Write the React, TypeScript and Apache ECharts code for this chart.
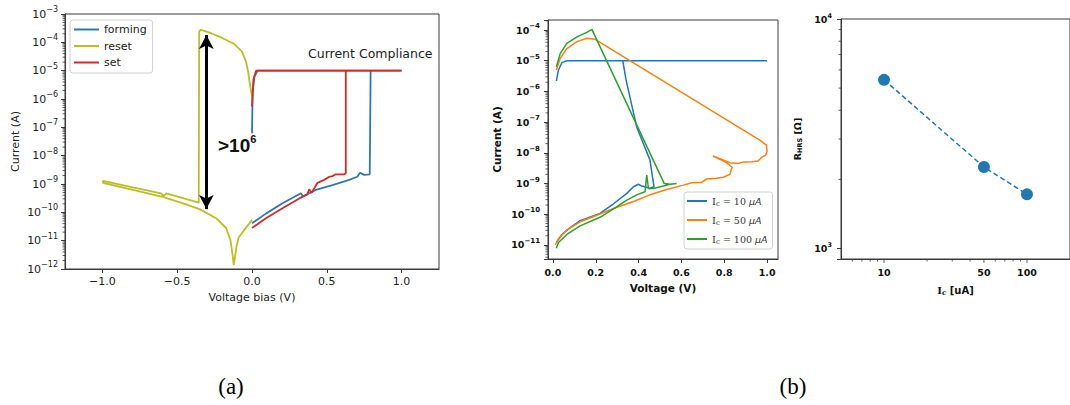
import React, { useEffect, useRef } from 'react';
import * as echarts from 'echarts';

// ---------- Panel (a): I-V sweeps ----------
const formingV = [0.0, 0.093, 0.204, 0.327, 0.342, 0.427, 0.538, 0.649, 0.704, 0.722, 0.749, 0.787, 0.793, 1.0, 0.038, 0.016, 0.004, 0.0];
const formingI = [4.1e-11, 9e-11, 2.1e-10, 4.7e-10, 3.6e-10, 6.2e-10, 9.1e-10, 1.4e-9, 1.8e-9, 2.5e-9, 2.1e-9, 2.2e-9, 1e-5, 1e-5, 1e-5, 6.2e-6, 1.6e-6, 6.2e-8];

const resetV = [0.0, -0.013, -0.024, -0.04, -0.067, -0.118, -0.196, -0.273, -0.324, -0.344, -0.353, -0.356, -0.462, -0.573, -0.591, -0.609, -0.796, -0.996, -0.996, -0.796, -0.596, -0.44, -0.351, -0.24, -0.173, -0.144, -0.131, -0.122, -0.113, -0.104, -0.089, -0.051, 0.0];
const resetI = [1.2e-6, 3.1e-6, 8.1e-6, 2.1e-5, 4.7e-5, 8.7e-5, 1.4e-4, 2.1e-4, 2.6e-4, 2.75e-4, 2.4e-4, 2.2e-10, 3.2e-10, 4.7e-10, 3.8e-10, 4.7e-10, 7.6e-10, 1.3e-9, 1.1e-9, 6.2e-10, 3.5e-10, 1.9e-10, 1.3e-10, 6.2e-11, 2.8e-11, 1.05e-11, 3.5e-12, 1.4e-12, 2.8e-12, 6.2e-12, 1.3e-11, 2.4e-11, 5.4e-11];

const setV = [0.0, 0.093, 0.204, 0.316, 0.371, 0.382, 0.398, 0.416, 0.438, 0.482, 0.516, 0.538, 0.56, 0.616, 0.627, 0.627, 1.0, 0.027, 0.009, 0.0];
const setI = [2.8e-11, 6.2e-11, 1.4e-10, 3.1e-10, 4.4e-10, 6.5e-10, 4.9e-10, 7.1e-10, 1.1e-9, 1.4e-9, 1.8e-9, 1.9e-9, 2.2e-9, 2.2e-9, 2.4e-9, 1e-5, 1e-5, 1e-5, 4.7e-6, 5.4e-7];

const aXTicks = [-1.0, -0.5, 0.0, 0.5, 1.0];

// ---------- Panel (b) left: compliance currents ----------
const ic10V = [0.016, 0.026, 0.042, 0.065, 1.0, 0.326, 0.342, 0.391, 0.453, 0.472, 0.453, 0.430, 0.415, 0.399, 0.376, 0.345, 0.283, 0.220, 0.127, 0.081, 0.042, 0.016];
const ic10I = [2.2e-6, 5e-6, 8.7e-6, 1e-5, 1e-5, 1e-5, 2.3e-6, 7e-8, 5.9e-9, 7.9e-10, 6.9e-10, 7.9e-10, 8.3e-10, 9.5e-10, 7.9e-10, 4.8e-10, 2.2e-10, 1.07e-10, 6.2e-11, 3.7e-11, 2.2e-11, 1.2e-11];

const ic50V = [0.016, 0.034, 0.065, 0.112, 0.158, 0.197, 0.966, 0.997, 1.0, 0.994, 0.974, 0.958, 0.927, 0.888, 0.865, 0.826, 0.748, 0.811, 0.837, 0.826, 0.795, 0.764, 0.717, 0.694, 0.648, 0.609, 0.531, 0.453, 0.376, 0.283, 0.205, 0.127, 0.065, 0.026, 0.011];
const ic50I = [5e-6, 1.2e-5, 2.5e-5, 4.2e-5, 5.4e-5, 5e-5, 2.6e-8, 1.8e-8, 1.1e-8, 8.5e-9, 7.1e-9, 5.4e-9, 5.1e-9, 5e-9, 4.5e-9, 4.8e-9, 7.9e-9, 4.8e-9, 3.4e-9, 2.0e-9, 1.6e-9, 1.5e-9, 1.4e-9, 1.1e-9, 1.07e-9, 8.9e-10, 6.4e-10, 4.3e-10, 2.6e-10, 1.55e-10, 9.3e-11, 5.7e-11, 3.1e-11, 1.6e-11, 1e-11];

const ic100V = [0.016, 0.034, 0.065, 0.112, 0.158, 0.182, 0.520, 0.547, 0.578, 0.547, 0.516, 0.469, 0.446, 0.438, 0.430, 0.391, 0.345, 0.283, 0.220, 0.127, 0.065, 0.026, 0.016];
const ic100I = [6.4e-6, 1.7e-5, 3.7e-5, 6e-5, 8.4e-5, 1.05e-4, 1.0e-9, 9.5e-10, 1.0e-9, 9.5e-10, 8.3e-10, 6.9e-10, 6.9e-10, 1.9e-9, 5.4e-10, 4.3e-10, 2.9e-10, 1.5e-10, 8e-11, 4.2e-11, 2.2e-11, 1.2e-11, 7.8e-12];

const bXTicks = [0.0, 0.2, 0.4, 0.6, 0.8, 1.0];

// ---------- Panel (b) right: R_HRS vs Ic ----------
const icValues = [10, 50, 100];
const rhrsValues = [5430, 2265, 1722];
const cXMajor = [10, 50, 100];
const cXMinor = [6, 7, 8, 9, 20, 30, 40, 60, 70, 80, 90];

// minor ticks on log axes (multiples 2..9 of each decade)
const minorMult = [2, 3, 4, 5, 6, 7, 8, 9];
const aDecades = [-12, -11, -10, -9, -8, -7, -6, -5, -4];
const bDecades = [-12, -11, -10, -9, -8, -7, -6, -5, -4];
const cDecades = [3];

const zip = (xs: number[], ys: number[]) => xs.map((x, i) => [x, ys[i]]);
const minorValues = (decades: number[], lo: number, hi: number) => {
  const out: number[] = [];
  decades.forEach((d) => minorMult.forEach((m) => {
    const v = m * Math.pow(10, d);
    if (v > lo && v < hi) out.push(v);
  }));
  return out;
};

const powLabel = (v: number) => {
  const l = Math.log10(v);
  const e = Math.round(l);
  if (Math.abs(l - e) > 1e-6) return '';
  return `10{s|${e < 0 ? '\u2212' : ''}${Math.abs(e)}}`;
};

const AX = '#3a3a3a';
const FONT = 'DejaVu Sans';

function yTickSeries(idx: number, values: number[], ref: number, len: number) {
  return {
    type: 'custom', xAxisIndex: idx, yAxisIndex: idx, silent: true, z: 5,
    data: values.map((v) => [ref, v]),
    renderItem: (params: any, api: any) => {
      const cs = params.coordSys;
      const p = api.coord([ref, api.value(1)]);
      return { type: 'line', shape: { x1: cs.x - len, y1: p[1], x2: cs.x, y2: p[1] }, style: { stroke: AX, lineWidth: 0.8 } };
    },
  };
}

function xTickSeries(idx: number, values: number[], ref: number, len: number, withLabels: boolean) {
  return {
    type: 'custom', xAxisIndex: idx, yAxisIndex: idx, silent: true, z: 5,
    data: values.map((v) => [v, ref]),
    renderItem: (params: any, api: any) => {
      const cs = params.coordSys;
      const v = api.value(0);
      const p = api.coord([v, ref]);
      const yb = cs.y + cs.height;
      const children: any[] = [
        { type: 'line', shape: { x1: p[0], y1: yb, x2: p[0], y2: yb + len }, style: { stroke: AX, lineWidth: 0.8 } },
      ];
      if (withLabels) {
        children.push({
          type: 'text', x: p[0], y: yb + 8,
          style: { text: String(v), align: 'center', verticalAlign: 'top', fontSize: 9.5, fontWeight: 'bold', fontFamily: FONT, fill: '#111' },
        });
      }
      return { type: 'group', children };
    },
  };
}

export default function App() {
  const ref = useRef<HTMLDivElement>(null);
  useEffect(() => {
    if (!ref.current) return;
    const chart = echarts.init(ref.current, undefined, { renderer: 'svg' });

    const axisLine = { show: true, onZero: false, lineStyle: { color: AX, width: 1 } };
    const gridBase = { show: true, borderColor: AX, borderWidth: 1, backgroundColor: 'transparent', containLabel: false };

    const legendRich = {
      i: { fontFamily: 'DejaVu Serif', fontSize: 10, color: '#333' },
      s: { fontFamily: 'DejaVu Serif', fontSize: 7, color: '#333', padding: [5, 0, 0, 0] },
      u: { fontFamily: 'DejaVu Sans', fontStyle: 'italic', fontSize: 9.5, color: '#333' },
    };
    const icLabel: Record<string, string> = { Ic10: '10', Ic50: '50', Ic100: '100' };

    const option: any = {
      animation: false,
      backgroundColor: '#fff',
      grid: [
        { ...gridBase, left: 65, top: 14, width: 374, height: 255 },
        { ...gridBase, left: 548, top: 20, width: 230, height: 239 },
        { ...gridBase, left: 841, top: 19, width: 231, height: 240 },
      ],
      xAxis: [
        {
          type: 'value', gridIndex: 0, min: -1.25, max: 1.25,
          axisLine, splitLine: { show: false },
          axisTick: { show: true, customValues: aXTicks, length: 4, lineStyle: { color: AX } },
          axisLabel: { customValues: aXTicks, margin: 7, fontSize: 11, fontFamily: FONT, color: '#222', formatter: (v: number) => v.toFixed(1).replace('-', '\u2212') },
          name: 'Voltage bias (V)', nameLocation: 'middle', nameGap: 23,
          nameTextStyle: { fontSize: 11, fontFamily: FONT, color: '#222' },
        },
        {
          type: 'value', gridIndex: 1, min: -0.023, max: 1.051,
          axisLine, splitLine: { show: false },
          axisTick: { show: true, customValues: bXTicks, length: 4, lineStyle: { color: AX } },
          axisLabel: { customValues: bXTicks, margin: 8, fontSize: 9.5, fontWeight: 'bold', fontFamily: FONT, color: '#111', formatter: (v: number) => v.toFixed(1) },
          name: 'Voltage (V)', nameLocation: 'middle', nameGap: 23,
          nameTextStyle: { fontSize: 10.5, fontWeight: 'bold', fontFamily: FONT, color: '#111' },
        },
        {
          type: 'log', logBase: 10, gridIndex: 2, min: 5, max: 200,
          axisLine, splitLine: { show: false },
          axisTick: { show: false }, axisLabel: { show: false },
          name: '{i|I}{s|c} [uA]', nameLocation: 'middle', nameGap: 25,
          nameTextStyle: {
            fontSize: 10, fontWeight: 'bold', fontFamily: FONT, color: '#111',
            rich: {
              i: { fontFamily: 'DejaVu Serif', fontWeight: 'bold', fontSize: 10, color: '#111' },
              s: { fontFamily: 'DejaVu Serif', fontWeight: 'bold', fontSize: 7, color: '#111', padding: [5, 0, 0, 0] },
            },
          },
        },
      ],
      yAxis: [
        {
          type: 'log', logBase: 10, gridIndex: 0, min: 1e-12, max: 1e-3,
          axisLine, splitLine: { show: false },
          axisTick: { show: true, length: 4, lineStyle: { color: AX } },
          axisLabel: {
            margin: 7, fontSize: 11, fontFamily: FONT, color: '#222', formatter: powLabel,
            rich: { s: { fontSize: 8, fontFamily: FONT, color: '#222', padding: [0, 0, 9, 0] } },
          },
          name: 'Current (A)', nameLocation: 'middle', nameGap: 44, nameRotate: 90,
          nameTextStyle: { fontSize: 11, fontFamily: FONT, color: '#222' },
        },
        {
          type: 'log', logBase: 10, gridIndex: 1, min: 3.5e-12, max: 2.12e-4,
          axisLine, splitLine: { show: false },
          axisTick: { show: true, length: 4, lineStyle: { color: AX } },
          axisLabel: {
            margin: 8, fontSize: 9.5, fontWeight: 'bold', fontFamily: FONT, color: '#111', formatter: powLabel,
            rich: { s: { fontSize: 7, fontWeight: 'bold', fontFamily: FONT, color: '#111', padding: [0, 0, 8, 0] } },
          },
          name: 'Current (A)', nameLocation: 'middle', nameGap: 46, nameRotate: 90,
          nameTextStyle: { fontSize: 10.5, fontWeight: 'bold', fontFamily: FONT, color: '#111' },
        },
        {
          type: 'log', logBase: 10, gridIndex: 2, min: 900, max: 10000,
          axisLine, splitLine: { show: false },
          axisTick: { show: true, length: 4, lineStyle: { color: AX } },
          axisLabel: {
            margin: 9, fontSize: 9.5, fontWeight: 'bold', fontFamily: FONT, color: '#111', formatter: powLabel,
            rich: { s: { fontSize: 6.5, fontWeight: 'bold', fontFamily: FONT, color: '#111', padding: [0, 0, 7, 0] } },
          },
          name: 'R{s|HRS} [\u03a9]', nameLocation: 'middle', nameGap: 38, nameRotate: 90,
          nameTextStyle: {
            fontSize: 9.5, fontWeight: 'bold', fontFamily: FONT, color: '#111',
            rich: { s: { fontSize: 6.5, fontWeight: 'bold', fontFamily: FONT, color: '#111', padding: [5, 0, 0, 0] } },
          },
        },
      ],
      legend: [
        {
          data: ['forming', 'reset', 'set'], orient: 'vertical', left: 70, top: 20,
          icon: 'rect', itemWidth: 25, itemHeight: 2, itemGap: 5.5, padding: [4, 6, 5, 4],
          backgroundColor: '#fff', borderColor: '#d0d0d0', borderWidth: 1, borderRadius: 3,
          textStyle: { fontSize: 11, fontFamily: FONT, color: '#222' },
        },
        {
          data: ['Ic10', 'Ic50', 'Ic100'], orient: 'vertical', left: 684, top: 192,
          icon: 'rect', itemWidth: 20, itemHeight: 2, itemGap: 8, padding: [4, 5, 4, 3],
          backgroundColor: '#fff', borderColor: '#d0d0d0', borderWidth: 1, borderRadius: 3,
          formatter: (n: string) => `{i|I}{s|c} = ${icLabel[n]} {u|\u03bcA}`,
          textStyle: { fontSize: 9.5, fontFamily: 'DejaVu Serif', color: '#333', rich: legendRich },
        },
      ],
      graphic: [
        { type: 'text', x: 308, y: 53, style: { text: 'Current Compliance', verticalAlign: 'middle', fontSize: 12.5, fontFamily: FONT, fill: '#222' } },
        {
          type: 'text', x: 218, y: 145,
          style: {
            text: '>10{s|6}', verticalAlign: 'middle', fontSize: 19, fontWeight: 'bold', fontFamily: 'Liberation Sans', fill: '#111',
            rich: { s: { fontSize: 11, fontWeight: 'bold', fontFamily: 'Liberation Sans', fill: '#111', padding: [0, 0, 12, 0] } },
          },
        },
        { type: 'text', x: 231, y: 386, style: { text: '(a)', align: 'center', verticalAlign: 'middle', fontSize: 23, fontFamily: 'Liberation Serif', fill: '#000' } },
        { type: 'text', x: 793, y: 386, style: { text: '(b)', align: 'center', verticalAlign: 'middle', fontSize: 23, fontFamily: 'Liberation Serif', fill: '#000' } },
      ],
      series: [
        { name: 'forming', type: 'line', xAxisIndex: 0, yAxisIndex: 0, data: zip(formingV, formingI), showSymbol: false, symbol: 'none', color: '#2f77b0', lineStyle: { width: 1.8 } },
        {
          name: 'reset', type: 'line', xAxisIndex: 0, yAxisIndex: 0, data: zip(resetV, resetI), showSymbol: false, symbol: 'none', color: '#bdbe24', lineStyle: { width: 1.8 },
          markLine: {
            silent: true, symbol: ['arrow', 'arrow'], symbolSize: [11, 14],
            lineStyle: { color: '#000', width: 3, type: 'solid' }, label: { show: false },
            emphasis: { disabled: true },
            data: [[{ coord: [-0.305, 1.8e-4] }, { coord: [-0.305, 1.3e-10] }]],
          },
        },
        { name: 'set', type: 'line', xAxisIndex: 0, yAxisIndex: 0, data: zip(setV, setI), showSymbol: false, symbol: 'none', color: '#d22b2b', lineStyle: { width: 1.8 } },

        { name: 'Ic10', type: 'line', xAxisIndex: 1, yAxisIndex: 1, data: zip(ic10V, ic10I), showSymbol: false, symbol: 'none', color: '#1f77b4', lineStyle: { width: 1.5 } },
        { name: 'Ic50', type: 'line', xAxisIndex: 1, yAxisIndex: 1, data: zip(ic50V, ic50I), showSymbol: false, symbol: 'none', color: '#ff7f0e', lineStyle: { width: 1.5 } },
        { name: 'Ic100', type: 'line', xAxisIndex: 1, yAxisIndex: 1, data: zip(ic100V, ic100I), showSymbol: false, symbol: 'none', color: '#2ca02c', lineStyle: { width: 1.5 } },

        {
          name: 'Rhrs', type: 'line', xAxisIndex: 2, yAxisIndex: 2, data: zip(icValues, rhrsValues),
          symbol: 'circle', symbolSize: 12, color: '#1f77b4', lineStyle: { width: 1.5, type: [5, 3] },
        },

        yTickSeries(0, minorValues(aDecades, 1e-12, 1e-3), 0, 2.5),
        yTickSeries(1, minorValues(bDecades, 3.5e-12, 2.12e-4), 0.5, 2.5),
        yTickSeries(2, minorValues(cDecades, 900, 10000), 10, 2.5),
        xTickSeries(2, cXMajor, 1000, 4, true),
        xTickSeries(2, cXMinor, 1000, 2.5, false),
      ],
    };
    chart.setOption(option);
    return () => chart.dispose();
  }, []);
  return <div ref={ref} style={{ position: 'fixed', left: 0, top: 0, width: 1070, height: 405, background: '#fff' }} />;
}
